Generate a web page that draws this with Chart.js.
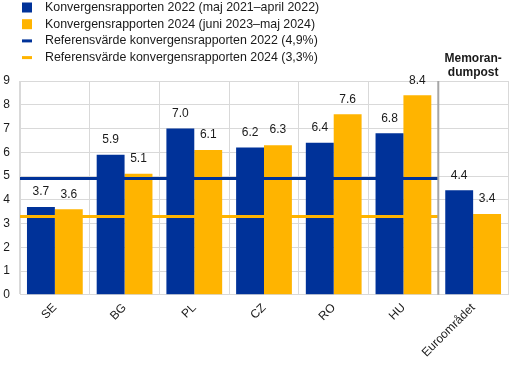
<!DOCTYPE html>
<html><head><meta charset="utf-8">
<script src="https://cdn.jsdelivr.net/npm/chart.js@4/dist/chart.umd.min.js"></script>
<style>html,body{margin:0;padding:0;background:#fff}#wrap{width:519px;height:368px;position:relative}</style>
</head><body><div id="wrap"><canvas id="c"></canvas></div>
<script>
const categories = ['SE', 'BG', 'PL', 'CZ', 'RO', 'HU', 'Euroområdet'];
const series2022 = [3.7, 5.9, 7.0, 6.2, 6.4, 6.8, 4.4];
const series2024 = [3.6, 5.1, 6.1, 6.3, 7.6, 8.4, 3.4];
const reference2022 = 4.9;
const reference2024 = 3.3;
const memoStartIndex = 6;
const yMin = 0, yMax = 9, yStep = 1;
const legendLabels = [
  'Konvergensrapporten 2022 (maj 2021–april 2022)',
  'Konvergensrapporten 2024 (juni 2023–maj 2024)',
  'Referensvärde konvergensrapporten 2022 (4,9%)',
  'Referensvärde konvergensrapporten 2024 (3,3%)'
];
const memoLabel = ['Memoran-', 'dumpost'];

const BLUE = '#003299', YELLOW = '#ffb400';
const FONT = 'Arial, "Liberation Sans", sans-serif';

const extras = {
  id: 'extras',
  afterDatasetsDraw(chart) {
    const ctx = chart.ctx, x = chart.scales.x, y = chart.scales.y, area = chart.chartArea;
    const boundary = (x.getPixelForValue(memoStartIndex - 1) + x.getPixelForValue(memoStartIndex)) / 2;
    ctx.save();
    [[reference2022, BLUE], [reference2024, YELLOW]].forEach(([v, c]) => {
      const py = y.getPixelForValue(v);
      ctx.strokeStyle = c; ctx.lineWidth = 3;
      ctx.beginPath(); ctx.moveTo(area.left, py); ctx.lineTo(boundary, py); ctx.stroke();
    });
    ctx.strokeStyle = '#a6a6a6'; ctx.lineWidth = 2;
    ctx.beginPath(); ctx.moveTo(boundary, area.top); ctx.lineTo(boundary, area.bottom); ctx.stroke();
    ctx.fillStyle = '#1a1a1a'; ctx.font = '12px ' + FONT; ctx.textAlign = 'center'; ctx.textBaseline = 'bottom';
    chart.data.datasets.forEach((ds, di) => {
      const meta = chart.getDatasetMeta(di);
      meta.data.forEach((el, i) => {
        ctx.fillText(ds.data[i].toFixed(1), el.x, el.y - 9);
      });
    });
    ctx.font = 'bold 12px ' + FONT; ctx.textBaseline = 'middle';
    const mx = x.getPixelForValue(memoStartIndex);
    ctx.fillText(memoLabel[0], mx, area.top - 22);
    ctx.fillText(memoLabel[1], mx, area.top - 8);
    ctx.restore();
  },
  afterDraw(chart) {
    const ctx = chart.ctx;
    ctx.save();
    ctx.font = '12.4px ' + FONT; ctx.textBaseline = 'middle'; ctx.textAlign = 'left';
    const colors = [BLUE, YELLOW, BLUE, YELLOW];
    legendLabels.forEach((t, i) => {
      const cy = 7.5 + i * 16.7;
      ctx.fillStyle = colors[i];
      if (i < 2) ctx.fillRect(22, cy - 5, 10, 10);
      else ctx.fillRect(22, cy - 1.5, 10, 3);
      ctx.fillStyle = '#1a1a1a';
      ctx.fillText(t, 45, cy);
    });
    ctx.restore();
  }
};

new Chart(document.getElementById('c'), {
  type: 'bar',
  data: {
    labels: categories,
    datasets: [
      { label: legendLabels[0], data: series2022, backgroundColor: BLUE, categoryPercentage: 0.8, barPercentage: 1.0 },
      { label: legendLabels[1], data: series2024, backgroundColor: YELLOW, categoryPercentage: 0.8, barPercentage: 1.0 }
    ]
  },
  options: {
    responsive: true, maintainAspectRatio: false, animation: false,
    layout: { padding: { top: 81, right: 11, left: 0, bottom: 2 } },
    plugins: { legend: { display: false }, tooltip: { enabled: false } },
    scales: {
      x: {
        grid: { color: '#d9d9d9', drawTicks: false, offset: true },
        border: { color: '#d9d9d9' },
        ticks: { font: { size: 12, family: FONT }, color: '#1a1a1a', maxRotation: 45, minRotation: 45, padding: 6 }
      },
      y: {
        min: yMin, max: yMax,
        grid: { color: '#d9d9d9', drawTicks: false },
        border: { color: '#d9d9d9' },
        ticks: { stepSize: yStep, font: { size: 12, family: FONT }, color: '#1a1a1a', padding: 10 },
        afterFit(scale) { scale.width = 20; }
      }
    }
  },
  plugins: [extras]
});
</script></body></html>
